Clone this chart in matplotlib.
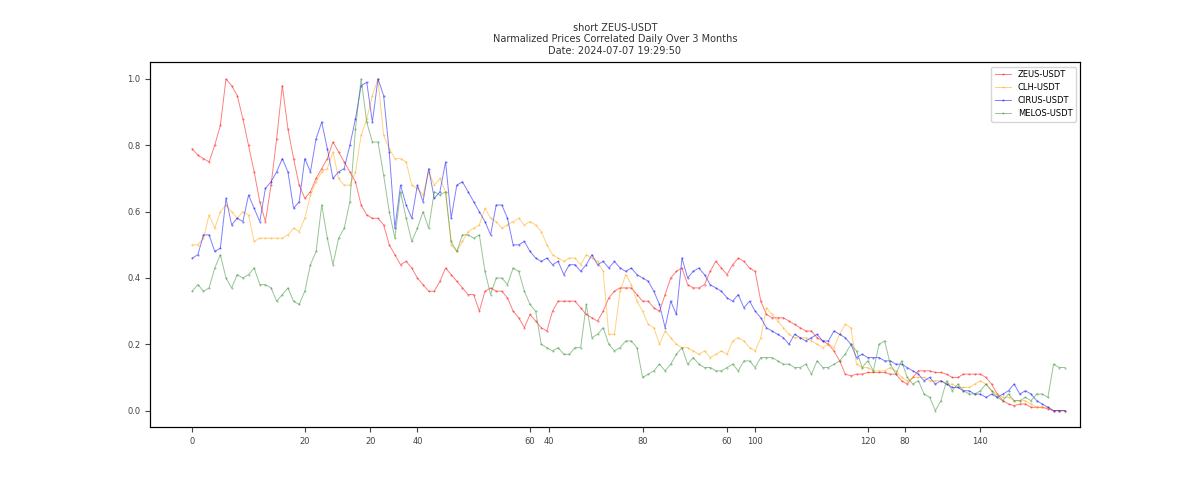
import matplotlib
matplotlib.use("Agg")
import matplotlib.pyplot as plt
import numpy as np

zeus = [.79,.77,.76,.75,.80,.86,1.0,.98,.95,.88,
        .80,.72,.63,.57,.68,.82,.98,.85,.76,.68,
        .64,.66,.70,.73,.76,.81,.78,.75,.72,.69,
        .62,.59,.58,.58,.56,.50,.47,.44,.45,.43,
        .40,.38,.36,.36,.39,.43,.41,.39,.37,.35,
        .35,.30,.36,.37,.36,.36,.34,.30,.28,.25,
        .29,.27,.25,.24,.30,.33,.33,.33,.33,.31,
        .29,.28,.27,.30,.34,.36,.37,.37,.37,.35,
        .33,.33,.31,.30,.35,.40,.42,.43,.38,.37,
        .37,.38,.42,.45,.43,.41,.44,.46,.45,.43,
        .42,.33,.29,.28,.28,.28,.27,.26,.25,.24,
        .24,.22,.21,.20,.18,.15,.11,.105,.11,.11,
        .115,.115,.115,.115,.11,.11,.09,.08,.10,.12,
        .12,.12,.115,.115,.11,.10,.10,.11,.11,.11,
        .11,.10,.08,.05,.03,.02,.015,.02,.02,.01,
        .01,.01,.005,0,0,0]
clh = [.50,.50,.52,.59,.55,.60,.62,.60,.58,.60,
       .59,.51,.52,.52,.52,.52,.52,.53,.55,.54,
       .58,.65,.69,.72,.73,.78,.70,.68,.68,.72,
       .83,.88,.95,1.0,.83,.79,.76,.76,.75,.68,
       .67,.65,.72,.68,.70,.66,.50,.48,.51,.54,
       .55,.56,.61,.58,.57,.55,.56,.57,.58,.56,
       .57,.56,.54,.50,.47,.46,.45,.46,.46,.44,
       .47,.46,.45,.42,.23,.23,.36,.41,.38,.33,
       .30,.26,.25,.20,.24,.22,.20,.19,.19,.18,
       .17,.18,.16,.17,.18,.17,.21,.22,.21,.19,
       .18,.22,.31,.29,.27,.25,.23,.22,.22,.22,
       .21,.20,.19,.20,.19,.23,.26,.25,.14,.13,
       .13,.12,.12,.12,.13,.12,.10,.09,.10,.10,
       .10,.09,.09,.09,.08,.08,.07,.07,.07,.08,
       .09,.08,.06,.05,.04,.04,.03,.03,.03,.02,
       .01,.01,.01,0,0,0]
cirus = [.46,.47,.53,.53,.48,.49,.64,.56,.58,.57,
         .65,.61,.57,.67,.69,.72,.76,.72,.61,.63,
         .76,.72,.82,.87,.79,.70,.72,.73,.80,.88,
         .98,.99,.87,1.0,.95,.78,.55,.68,.62,.58,
         .68,.63,.73,.64,.66,.75,.58,.68,.69,.66,
         .63,.60,.57,.53,.62,.62,.58,.50,.50,.51,
         .48,.46,.45,.46,.44,.45,.41,.44,.44,.42,
         .44,.47,.44,.45,.43,.45,.43,.42,.43,.41,
         .40,.39,.36,.32,.25,.33,.29,.46,.40,.42,
         .43,.41,.38,.37,.36,.34,.33,.35,.31,.33,
         .30,.28,.25,.24,.23,.22,.20,.23,.22,.21,
         .22,.23,.21,.21,.24,.23,.22,.20,.16,.17,
         .16,.16,.16,.15,.15,.14,.14,.13,.12,.11,
         .09,.10,.08,.09,.08,.07,.07,.06,.06,.05,
         .05,.04,.05,.04,.05,.06,.08,.05,.06,.05,
         .03,.02,.01,0,0,0]
melos = [.36,.38,.36,.37,.43,.47,.40,.37,.41,.40,
         .41,.43,.38,.38,.37,.33,.35,.37,.33,.32,
         .36,.44,.48,.62,.52,.44,.52,.55,.63,.85,
         1.0,.87,.81,.81,.71,.60,.52,.66,.58,.51,
         .55,.60,.55,.66,.65,.66,.51,.48,.53,.53,
         .52,.53,.42,.35,.40,.40,.38,.43,.42,.36,
         .32,.30,.20,.19,.18,.19,.17,.17,.19,.19,
         .32,.22,.23,.25,.20,.18,.19,.21,.21,.19,
         .10,.11,.12,.14,.12,.14,.17,.19,.14,.16,
         .14,.13,.13,.12,.12,.13,.14,.12,.15,.15,
         .13,.16,.16,.16,.15,.14,.14,.13,.13,.14,
         .11,.15,.13,.13,.14,.15,.17,.20,.18,.13,
         .15,.12,.20,.21,.14,.11,.15,.10,.08,.09,
         .05,.04,.00,.03,.09,.06,.08,.06,.05,.05,
         .06,.08,.06,.04,.03,.05,.03,.03,.04,.03,
         .05,.05,.04,.14,.13,.13]

names = ["ZEUS-USDT", "CLH-USDT", "CIRUS-USDT", "MELOS-USDT"]
series = [zeus, clh, cirus, melos]
colors = ["red", "orange", "blue", "#2e8b2e"]
main_ticks = [0, 20, 40, 60, 80, 100, 120, 140]
twin_ticks = [20, 40, 60, 80]

fig = plt.figure(figsize=(12, 4.8), dpi=100)
ax = fig.add_axes([0.125, 0.11, 0.775, 0.76])
for name, s, c in zip(names, series, colors):
    ax.plot(np.arange(len(s)), s, color=c, lw=0.7, alpha=0.5, marker='.', markersize=1.0, label=name)
ax.set_xlim(-7.5, 157.7)
ax.set_xticks(main_ticks)
ax.tick_params(labelsize=6, colors='#444444')
ax.legend(fontsize=6, loc='upper right')
ax.set_title("short ZEUS-USDT\nNarmalized Prices Correlated Daily Over 3 Months\nDate: 2024-07-07 19:29:50", fontsize=7, color='#333333')
ax2 = ax.twiny()
ax2.set_xlim(-7.5 * 0.632, 157.7 * 0.632)
ax2.set_xticks(twin_ticks)
ax2.xaxis.set_ticks_position('bottom')
ax2.xaxis.set_label_position('bottom')
ax2.tick_params(labelsize=6, colors='#444444')
fig.savefig("out.png")
